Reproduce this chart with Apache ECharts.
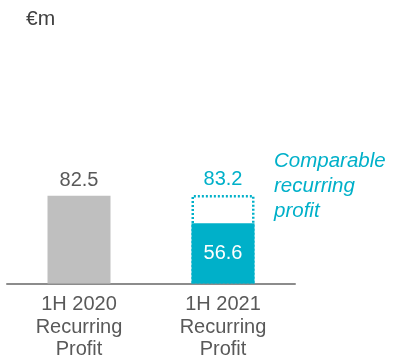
<!DOCTYPE html>
<html>
<head>
<meta charset="utf-8">
<script src="https://cdn.jsdelivr.net/npm/echarts@6/dist/echarts.min.js"></script>
<style>
  html, body { margin: 0; padding: 0; background: #fff; }
  #chart { width: 407px; height: 361px; }
</style>
</head>
<body>
<div id="chart"></div>
<script>
// Half-year recurring profit, €m
const categories = ['1H 2020\nRecurring\nProfit', '1H 2021\nRecurring\nProfit'];
const recurringProfit = [82.5, 56.6];
const comparableProfit = [null, 83.2];
const barColors = ['#bfbfbf', '#00b0c9'];

const CYAN = '#00b0c9';
const TEXT = '#595959';
const FONT = '"Liberation Sans", Arial, sans-serif';

const chart = echarts.init(document.getElementById('chart'), null, { renderer: 'canvas' });

chart.setOption({
  animation: false,
  grid: { left: 7, right: 112, top: 177, bottom: 76 },
  xAxis: {
    type: 'category',
    data: categories,
    axisLine: { lineStyle: { color: '#8c8c8c', width: 2 } },
    axisTick: { show: false },
    axisLabel: {
      color: TEXT, fontSize: 20, lineHeight: 22.5, fontFamily: FONT, margin: 10
    }
  },
  yAxis: { type: 'value', min: 0, max: 100, show: false },
  series: [
    {
      name: 'Recurring profit',
      type: 'bar',
      barWidth: 63,
      barGap: '-100%',
      z: 2,
      data: recurringProfit.map((v, i) => ({
        value: v,
        itemStyle: { color: barColors[i] },
        label: i === 0
          ? { show: true, position: 'top', distance: 5, color: TEXT }
          : { show: true, position: 'inside', color: '#ffffff' }
      })),
      label: { fontSize: 20, fontFamily: FONT }
    },
    {
      name: 'Comparable recurring profit',
      type: 'bar',
      barWidth: 63,
      barGap: '-100%',
      z: 3,
      data: comparableProfit,
      itemStyle: {
        color: 'rgba(0,0,0,0)',
        borderColor: CYAN,
        borderWidth: 2.5,
        borderType: [2, 2]
      },
      label: {
        show: true, position: 'top', distance: 5,
        color: CYAN, fontSize: 20, fontFamily: FONT
      }
    }
  ],
  graphic: [
    {
      type: 'text', left: 26, top: 9,
      style: { text: '€m', fill: '#404040', font: '21px ' + FONT }
    },
    {
      type: 'text', left: 274, top: 149,
      style: {
        text: 'Comparable\nrecurring\nprofit',
        fill: CYAN,
        font: 'italic 20.5px ' + FONT,
        lineHeight: 25
      }
    }
  ]
});
</script>
</body>
</html>
